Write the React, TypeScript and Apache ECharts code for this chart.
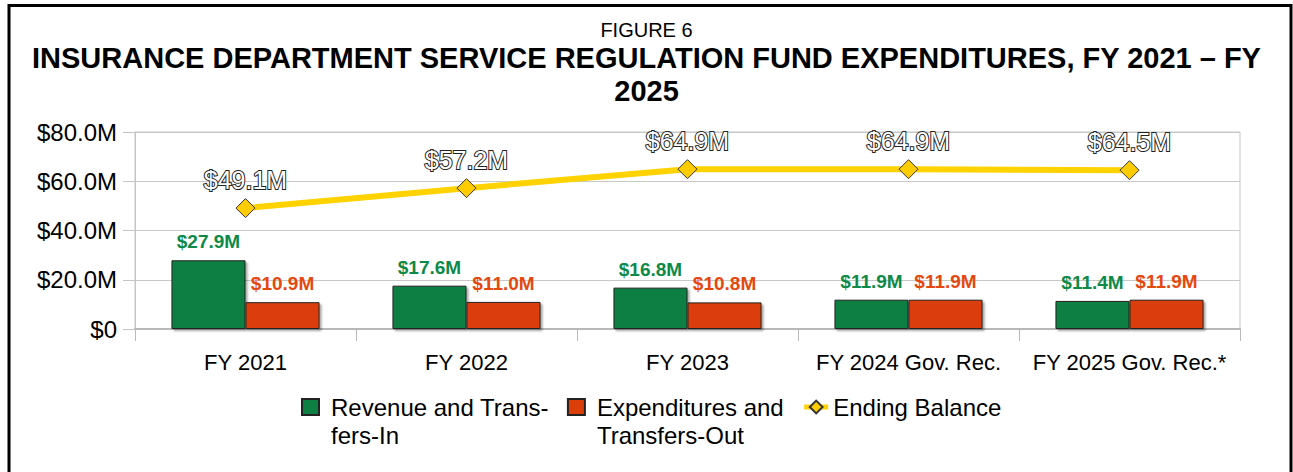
import React, { useEffect, useRef } from "react";
import * as echarts from "echarts";

const categories = ["FY 2021", "FY 2022", "FY 2023", "FY 2024 Gov. Rec.", "FY 2025 Gov. Rec.*"];
const revenueIn = [27.9, 17.6, 16.8, 11.9, 11.4];
const expendituresOut = [10.9, 11.0, 10.8, 11.9, 11.9];
const endingBalance = [49.1, 57.2, 64.9, 64.9, 64.5];
const yTicks = [0, 20, 40, 60, 80];

const FONT = "'Liberation Sans', Arial, sans-serif";

export default function App() {
  const ref = useRef<HTMLDivElement>(null);
  useEffect(() => {
    document.body.style.margin = "0";
    const chart = echarts.init(ref.current!, undefined, { renderer: "svg" });
    const fmt = (v: number) => (v === 0 ? "$0" : "$" + v.toFixed(1) + "M");
    const barIcon = "path://M0,0h17v16h-17z M24,16";
    chart.setOption({
      animation: false,
      backgroundColor: "#fff",
      textStyle: { fontFamily: FONT },
      title: [
        {
          text: "FIGURE 6",
          left: "center",
          top: 14,
          textStyle: { fontSize: 20, fontWeight: "normal", color: "#000", fontFamily: FONT, lineHeight: 22 },
        },
        {
          text: "INSURANCE DEPARTMENT SERVICE REGULATION FUND EXPENDITURES, FY 2021 – FY\n2025",
          left: "center",
          top: 36,
          textStyle: { fontSize: 29, fontWeight: "bold", color: "#000", lineHeight: 33, fontFamily: FONT },
        },
      ],
      graphic: [
        {
          type: "rect",
          shape: { x: 9, y: 5.5, width: 1282, height: 500 },
          style: { fill: "none", stroke: "#000", lineWidth: 3 },
          silent: true,
        },
      ],
      grid: {
        left: 135,
        right: 53,
        top: 132,
        bottom: 143,
        show: true,
        borderColor: "#c4c4c4",
        borderWidth: 1,
      },
      legend: {
        left: 296,
        top: 360,
        itemWidth: 24,
        itemHeight: 16,
        itemGap: 18,
        lineStyle: { width: 5 },
        formatter: (name: string) => (name === "Ending Balance" ? name : "\n" + name),
        textStyle: { fontSize: 24, color: "#000", lineHeight: 28, fontFamily: FONT },
        data: [
          { name: "Revenue and Trans-\nfers-In", icon: barIcon },
          { name: "Expenditures and\nTransfers-Out", icon: barIcon },
          { name: "Ending Balance" },
        ],
      },
      xAxis: {
        type: "category",
        data: categories,
        axisLine: { show: true, lineStyle: { color: "#b8b8b8", width: 2 } },
        axisTick: { show: true, length: 12, lineStyle: { color: "#b8b8b8" } },
        axisLabel: { fontSize: 22, color: "#000", margin: 22, interval: 0, fontFamily: FONT },
        splitLine: { show: false },
      },
      yAxis: {
        type: "value",
        min: yTicks[0],
        max: yTicks[yTicks.length - 1],
        interval: 20,
        axisLine: { show: true, lineStyle: { color: "#c4c4c4" } },
        axisTick: { show: true, length: 12, lineStyle: { color: "#c4c4c4" } },
        axisLabel: { fontSize: 24, color: "#000", margin: 18, formatter: fmt, fontFamily: FONT },
        splitLine: { show: true, lineStyle: { color: "#c8c8c8", width: 1 } },
      },
      series: [
        {
          name: "Revenue and Trans-\nfers-In",
          type: "bar",
          data: revenueIn,
          barGap: "0%",
          barCategoryGap: "33%",
          itemStyle: {
            color: "#0E7F43",
            borderColor: "#222",
            borderWidth: 1,
            shadowColor: "rgba(0,0,0,0.35)",
            shadowBlur: 2,
            shadowOffsetX: 2,
            shadowOffsetY: 2,
          },
          label: {
            show: true,
            position: "top",
            distance: 9,
            formatter: (p: any) => fmt(p.value),
            color: "#0E8A48",
            fontSize: 19,
            fontWeight: "bold",
            fontFamily: FONT,
          },
        },
        {
          name: "Expenditures and\nTransfers-Out",
          type: "bar",
          data: expendituresOut,
          itemStyle: {
            color: "#DC3E07",
            borderColor: "#222",
            borderWidth: 1,
            shadowColor: "rgba(0,0,0,0.35)",
            shadowBlur: 2,
            shadowOffsetX: 2,
            shadowOffsetY: 2,
          },
          label: {
            show: true,
            position: "top",
            distance: 9,
            formatter: (p: any) => fmt(p.value),
            color: "#E5480F",
            fontSize: 19,
            fontWeight: "bold",
            fontFamily: FONT,
          },
        },
        {
          name: "Ending Balance",
          type: "line",
          data: endingBalance,
          symbol: "diamond",
          symbolSize: 19,
          lineStyle: { color: "#FFD200", width: 6 },
          itemStyle: { color: "#FFCC00", borderColor: "#333", borderWidth: 1 },
          label: {
            show: true,
            position: "top",
            distance: 6,
            formatter: (p: any) => fmt(p.value),
            color: "#fff",
            textBorderColor: "#222",
            textBorderWidth: 2,
            fontSize: 25,
            fontFamily: FONT,
          },
          z: 5,
        },
      ],
    });
    return () => chart.dispose();
  }, []);
  return <div ref={ref} style={{ width: 1293, height: 472 }} />;
}
